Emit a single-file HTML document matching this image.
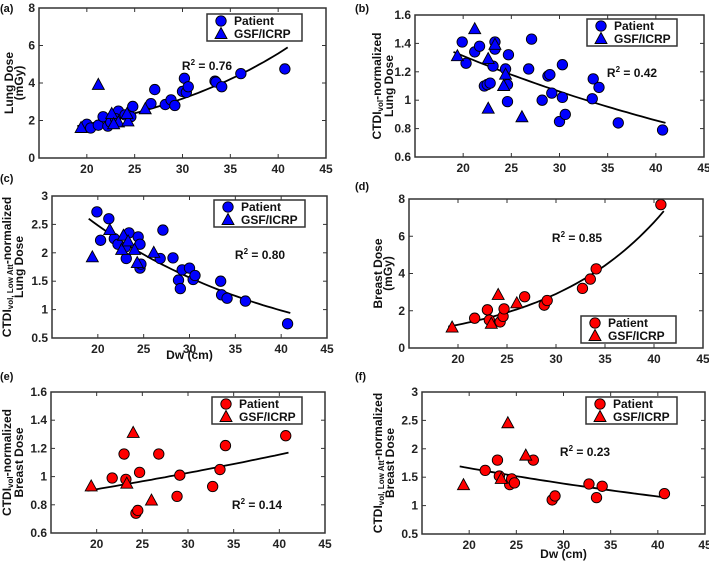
<!DOCTYPE html>
<html><head><meta charset="utf-8"><style>
body{margin:0;background:#fff;}
svg{display:block;font-family:"Liberation Sans",sans-serif;font-weight:bold;}
</style></head><body>
<svg id="fig" width="709" height="564" viewBox="0 0 709 564"></svg>
<script>
// ---- data (x = Dw in cm) ----
const aPx=[20,20.4,21.2,21.7,22.2,22.5,23.3,23.0,24.0,24.6,24.8,26.7,27.1,28.2,28.8,29.2,30.0,30.2,30.4,30.6,33.4,33.5,34.1,36.1,40.7];
const aPy=[1.8,1.6,1.75,2.2,1.7,1.9,2.5,2.1,2.3,2.2,2.75,2.9,3.65,2.85,3.1,2.8,3.55,4.25,3.5,3.8,4.1,4.05,3.8,4.5,4.75];
const aTx=[19.4,21.2,22.6,23.3,24.3,24.2,26.1,22.8];
const aTy=[1.6,3.9,2.35,1.9,1.95,2.35,2.6,1.8];
const bPx=[19.9,20.3,21.2,21.7,22.2,22.5,22.8,23.1,23.3,23.3,24.4,24.6,24.6,24.7,26.8,27.1,28.2,28.8,29.0,29.2,30.0,30.3,30.3,30.6,33.4,33.5,34.1,36.1,40.7];
const bPy=[1.41,1.26,1.34,1.38,1.1,1.11,1.12,1.24,1.41,1.36,1.22,1.11,0.99,1.32,1.22,1.43,1.0,1.17,1.18,1.05,0.85,1.25,1.02,0.9,1.01,1.15,1.09,0.84,0.79];
const bTx=[19.4,21.2,22.6,22.6,23.3,24.2,24.4,26.1];
const bTy=[1.31,1.5,1.29,0.94,1.39,1.1,1.18,0.88];
const cPx=[19.9,20.3,21.2,21.8,22.2,23.0,23.1,23.4,24.4,24.6,24.6,24.7,26.8,27.1,28.2,28.8,29.0,29.2,30.0,30.4,30.6,33.4,33.5,34.1,36.1,40.7];
const cPy=[2.72,2.22,2.6,2.25,2.15,2.1,1.9,2.35,2.28,2.15,1.73,1.8,1.9,2.4,1.91,1.52,1.37,1.7,1.73,1.53,1.6,1.5,1.26,1.2,1.15,0.75];
const cTx=[19.4,21.3,22.6,22.8,23.3,24.0,24.3,26.1];
const cTy=[1.92,2.4,2.05,2.3,2.2,2.05,1.82,2.0];
const dPx=[21.7,23.0,23.2,24.3,24.6,24.7,26.8,28.8,29.1,32.7,33.5,34.1,40.7];
const dPy=[1.6,2.05,1.5,1.4,1.7,2.1,2.75,2.3,2.55,3.2,3.7,4.25,7.7];
const dTx=[19.4,23.4,24.1,26.0];
const dTy=[1.1,1.3,2.85,2.4];
const ePx=[21.7,23.0,23.2,24.3,24.5,24.7,26.8,28.8,29.1,32.7,33.5,34.1,40.7];
const ePy=[0.99,1.16,0.98,0.74,0.76,1.03,1.16,0.86,1.01,0.93,1.05,1.22,1.29];
const eTx=[19.4,23.3,24.0,26.0];
const eTy=[0.93,0.95,1.31,0.83];
const fPx=[21.7,23.0,23.2,24.3,24.5,24.8,26.8,28.8,29.1,32.7,33.5,34.1,40.7];
const fPy=[1.62,1.8,1.52,1.37,1.47,1.4,1.8,1.1,1.17,1.38,1.14,1.34,1.21];
const fTx=[19.4,23.4,24.1,26.0];
const fTy=[1.36,1.47,2.45,1.88];
// fit curve end values at Dw=19 and Dw=41
const fitStart=[1.7,1.34,2.6,1.15,0.9,1.69];
const fitEnd=[5.9,0.84,0.94,7.35,1.17,1.14];
const r2Labels=["0.76","0.42","0.80","0.85","0.14","0.23"];
const xTicks=[20,25,30,35,40,45];
const yTicksA=[0,2,4,6,8], yTicksB=[0.6,0.8,1,1.2,1.4,1.6], yTicksC=[0.5,1,1.5,2,2.5,3];

const NS="http://www.w3.org/2000/svg";
const svg=document.getElementById('fig');
function mk(tag,attrs,parent){const e=document.createElementNS(NS,tag);for(const k in attrs)e.setAttribute(k,attrs[k]);(parent||svg).appendChild(e);return e;}

const panels=[
 {id:'a',L:39,R:326,T:8,B:158,ymin:0,ymax:8,yt:yTicksA,px:aPx,py:aPy,tx:aTx,ty:aTy,col:'#0000ff',leg:[207,14,302,41],r2:[207,66],lab:['Lung Dose','(mGy)'],lx:[13,23],letter:[0,12],xl:false},
 {id:'b',L:415,R:704,T:15,B:157,ymin:0.6,ymax:1.6,yt:yTicksB,px:bPx,py:bPy,tx:bTx,ty:bTy,col:'#0000ff',leg:[587,19,677,46],r2:[632,73],lab:['CTDIvol','Lung Dose'],lx:[381,393],letter:[355,12],xl:false},
 {id:'c',L:52,R:327,T:196,B:338,ymin:0.5,ymax:3,yt:yTicksC,px:cPx,py:cPy,tx:cTx,ty:cTy,col:'#0000ff',leg:[214,200,305,227],r2:[260,255],lab:['CTDIatt','Lung Dose'],lx:[11,23],letter:[0,182],xl:true,xly:359},
 {id:'d',L:409,R:703,T:199,B:348,ymin:0,ymax:8,yt:yTicksA,px:dPx,py:dPy,tx:dTx,ty:dTy,col:'#ff0000',leg:[581,316,676,343],r2:[577,238],lab:['Breast Dose','(mGy)'],lx:[382,392],letter:[355,190],xl:false},
 {id:'e',L:51,R:325,T:392,B:533,ymin:0.6,ymax:1.6,yt:yTicksB,px:ePx,py:ePy,tx:eTx,ty:eTy,col:'#ff0000',leg:[212,397,302,424],r2:[257,505],lab:['CTDIvol','Breast Dose'],lx:[11,23],letter:[0,380],xl:false},
 {id:'f',L:422,R:705,T:392,B:534,ymin:0.5,ymax:3,yt:yTicksC,px:fPx,py:fPy,tx:fTx,ty:fTy,col:'#ff0000',leg:[586,397,677,424],r2:[585,452],lab:['CTDIatt','Breast Dose'],lx:[382,394],letter:[355,380],xl:true,xly:558}
];

panels.forEach((p,i)=>{
 const g=mk('g',{});
 
 
 const X=v=>p.L+(v-15)/30*(p.R-p.L);
 const Y=v=>p.B-(v-p.ymin)/(p.ymax-p.ymin)*(p.B-p.T);
 const lt=mk('text',{x:p.letter[0],y:p.letter[1],'font-size':11,fill:'#111'},g);lt.textContent='('+p.id+')';
 
 
 xTicks.forEach(t=>{
  const x=X(t);
  mk('line',{x1:x,x2:x,y1:p.B,y2:p.B-4,stroke:'#333','stroke-width':1},g);
  mk('line',{x1:x,x2:x,y1:p.T,y2:p.T+4,stroke:'#333','stroke-width':1},g);
  const tt=mk('text',{x:x,y:p.B+15,'font-size':12,'text-anchor':'middle',fill:'#222'},g);tt.textContent=t;
  
  
 });
 p.yt.forEach(t=>{
  const y=Y(t);
  mk('line',{x1:p.L,x2:p.L+4,y1:y,y2:y,stroke:'#333','stroke-width':1},g);
  mk('line',{x1:p.R,x2:p.R-4,y1:y,y2:y,stroke:'#333','stroke-width':1},g);
  const tt=mk('text',{x:p.L-4,y:y+4,'font-size':12,'text-anchor':'end',fill:'#222'},g);tt.textContent=t;
  
  
 });
 let d='';
 for(let k=0;k<=44;k++){const xv=19+k*0.5;const yv=fitStart[i]*Math.pow(fitEnd[i]/fitStart[i],(xv-19)/22);d+=(k?'L':'M')+X(xv).toFixed(1)+','+Y(yv).toFixed(1);}
 const fit=mk('path',{d:d,fill:'none',stroke:'#000','stroke-width':1.8},g);
 
 
 p.px.forEach((xv,k)=>{
  const c=mk('circle',{cx:X(xv),cy:Y(p.py[k]),r:5.2,fill:p.col,stroke:'#000','stroke-width':0.9},g);
  
  
 });
 p.tx.forEach((xv,k)=>{
  const cx=X(xv),cy=Y(p.ty[k]);
  const t=mk('polygon',{points:`${cx},${cy-6.5} ${cx-6},${cy+4.5} ${cx+6},${cy+4.5}`,fill:p.col,stroke:'#000','stroke-width':0.9},g);
  
  
 });
 const box=mk('rect',{x:p.L,y:p.T,width:p.R-p.L,height:p.B-p.T,fill:'none',stroke:'#333','stroke-width':1.5},g);
 
 
 const r=mk('text',{x:p.r2[0],y:p.r2[1]+4,'font-size':12,'text-anchor':'middle',fill:'#111'},g);
 r.innerHTML='R<tspan dy="-5" font-size="8">2</tspan><tspan dy="5"> = '+r2Labels[i]+'</tspan>';
 
 
 const [x1,y1,x2,y2]=p.leg;
 const lg=mk('g',{},g);
 
 
 mk('rect',{x:x1,y:y1,width:x2-x1,height:y2-y1,fill:'#fff',stroke:'#333','stroke-width':1.5},lg);
 const my1=y1+7,my2=y1+20;
 mk('circle',{cx:x1+14,cy:my1,r:5.2,fill:p.col,stroke:'#000','stroke-width':0.9},lg);
 mk('polygon',{points:`${x1+14},${my2-6.5} ${x1+8},${my2+4.5} ${x1+20},${my2+4.5}`,fill:p.col,stroke:'#000','stroke-width':0.9},lg);
 const l1=mk('text',{x:x1+27,y:my1+4,'font-size':12,fill:'#111'},lg);l1.textContent='Patient';
 
 
 const l2=mk('text',{x:x1+27,y:my2+4,'font-size':12,fill:'#111'},lg);l2.textContent='GSF/ICRP';
 
 
 const cy=(p.T+p.B)/2;
 const lab1=mk('text',{x:0,y:0,'font-size':12,'text-anchor':'middle',fill:'#111',transform:`translate(${p.lx[0]},${cy}) rotate(-90)`},g);
 if(p.lab[0]==='CTDIvol') lab1.innerHTML='CTDI<tspan dy="2" font-size="8">vol</tspan><tspan dy="-2">-normalized</tspan>';
 else if(p.lab[0]==='CTDIatt') lab1.innerHTML='CTDI<tspan dy="2" font-size="8">vol, Low Att</tspan><tspan dy="-2">-normalized</tspan>';
 else lab1.textContent=p.lab[0];
 
 
 const lab2=mk('text',{x:0,y:0,'font-size':12,'text-anchor':'middle',fill:'#111',transform:`translate(${p.lx[1]},${cy}) rotate(-90)`},g);
 lab2.textContent=p.lab[1];
 
 
 if(p.xl){
  const xl=mk('text',{x:(p.L+p.R)/2,y:p.xly,'font-size':12,'text-anchor':'middle',fill:'#111'},g);
  xl.textContent='Dw (cm)';
  
  
 }
});
</script>
</body></html>
